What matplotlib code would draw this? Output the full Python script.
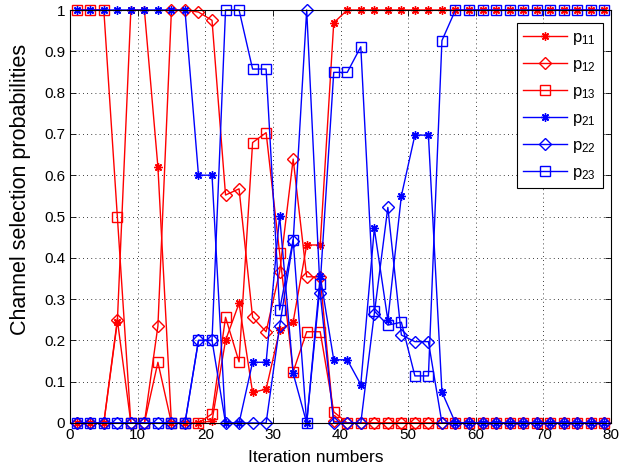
import matplotlib
matplotlib.use("Agg")
import matplotlib.pyplot as plt
import numpy as np

plt.rcParams['font.family'] = ['Liberation Sans', 'DejaVu Sans']
plt.rcParams['mathtext.fontset'] = 'custom'
plt.rcParams['mathtext.rm'] = 'Liberation Sans'
plt.rcParams['mathtext.it'] = 'Liberation Sans'

iterations = [1, 3, 5, 7, 9, 11, 13, 15, 17, 19, 21, 23, 25, 27, 29, 31, 33, 35, 37, 39,
              41, 43, 45, 47, 49, 51, 53, 55, 57, 59, 61, 63, 65, 67, 69, 71, 73, 75, 77, 79]

p11 = [0, 0, 0, 0.245, 1, 1, 0.62, 0, 0, 0, 0.005, 0.2, 0.29, 0.074, 0.082, 0.225, 0.245, 0.431, 0.431, 0.969,
       1, 1, 1, 1, 1, 1, 1, 1, 1, 1, 1, 1, 1, 1, 1, 1, 1, 1, 1, 1]
p12 = [0, 0, 0, 0.25, 0, 0, 0.235, 1, 1, 0.995, 0.975, 0.552, 0.567, 0.256, 0.221, 0.366, 0.639, 0.354, 0.354, 0.004,
       0, 0, 0, 0, 0, 0, 0, 0, 0, 0, 0, 0, 0, 0, 0, 0, 0, 0, 0, 0]
p13 = [1, 1, 1, 0.5, 0, 0, 0.147, 0, 0, 0, 0.022, 0.256, 0.148, 0.679, 0.703, 0.411, 0.124, 0.221, 0.221, 0.027,
       0, 0, 0, 0, 0, 0, 0, 0, 0, 0, 0, 0, 0, 0, 0, 0, 0, 0, 0, 0]
p21 = [1, 1, 1, 1, 1, 1, 1, 1, 1, 0.6, 0.6, 0, 0, 0.147, 0.147, 0.502, 0.12, 0, 0.356, 0.153,
       0.153, 0.093, 0.471, 0.249, 0.55, 0.697, 0.697, 0.075, 0, 0, 0, 0, 0, 0, 0, 0, 0, 0, 0, 0]
p22 = [0, 0, 0, 0, 0, 0, 0, 0, 0, 0.2, 0.2, 0, 0, 0, 0, 0.235, 0.44, 1, 0.314, 0,
       0, 0, 0.265, 0.522, 0.213, 0.197, 0.197, 0, 0, 0, 0, 0, 0, 0, 0, 0, 0, 0, 0, 0]
p23 = [0, 0, 0, 0, 0, 0, 0, 0, 0, 0.2, 0.2, 1, 1, 0.857, 0.857, 0.274, 0.444, 0, 0.337, 0.849,
       0.849, 0.911, 0.271, 0.237, 0.244, 0.114, 0.114, 0.926, 1, 1, 1, 1, 1, 1, 1, 1, 1, 1, 1, 1]

labels = ['p$_{11}$', 'p$_{12}$', 'p$_{13}$', 'p$_{21}$', 'p$_{22}$', 'p$_{23}$']
colors = ['red', 'red', 'red', 'blue', 'blue', 'blue']
markers = [(8, 2, 0), 'D', 's', (8, 2, 0), 'D', 's']
sizes = [6, 6, 7.5, 6, 6, 7.5]

fig = plt.figure(figsize=(6.33, 4.72), dpi=100)
ax = fig.add_axes([70/633, 1-423/472, 541/633, 413/472])

for vals, lab, col, mk, ms in zip([p11, p12, p13, p21, p22, p23], labels, colors, markers, sizes):
    ax.plot(iterations, vals, color=col, lw=1.0, marker=mk, markersize=ms,
            markerfacecolor='none', markeredgecolor=col, markeredgewidth=1.0,
            label=lab, clip_on=False)

ax.set_xlim(0, 80)
ax.set_ylim(0, 1)
ax.set_xticks(np.arange(0, 81, 10))
ax.set_yticks(np.arange(0, 1.01, 0.1))
ax.set_yticklabels(['0', '0.1', '0.2', '0.3', '0.4', '0.5', '0.6', '0.7', '0.8', '0.9', '1'])
ax.tick_params(direction='in', top=True, right=True, length=4, width=0.6, labelsize=11)
ax.grid(True, color='black', linestyle=(0, (1, 4)), linewidth=0.6)
for s in ax.spines.values():
    s.set_linewidth(0.8)
ax.set_xlabel('Iteration numbers', fontsize=12.5)
ax.set_ylabel('Channel selection probabilities', fontsize=15.5)
ax.xaxis.set_label_coords(0.455, -0.065)
ax.yaxis.set_label_coords(-0.072, 0.565)

leg = ax.legend(loc='upper right', bbox_to_anchor=(0.985, 0.9685), borderaxespad=0, fontsize=12,
                fancybox=False, framealpha=1, edgecolor='black', handlelength=2.6, borderpad=0.4,
                labelspacing=0.6, handletextpad=0.35)
leg.get_frame().set_linewidth(0.8)

fig.savefig('out.png', dpi=100)
